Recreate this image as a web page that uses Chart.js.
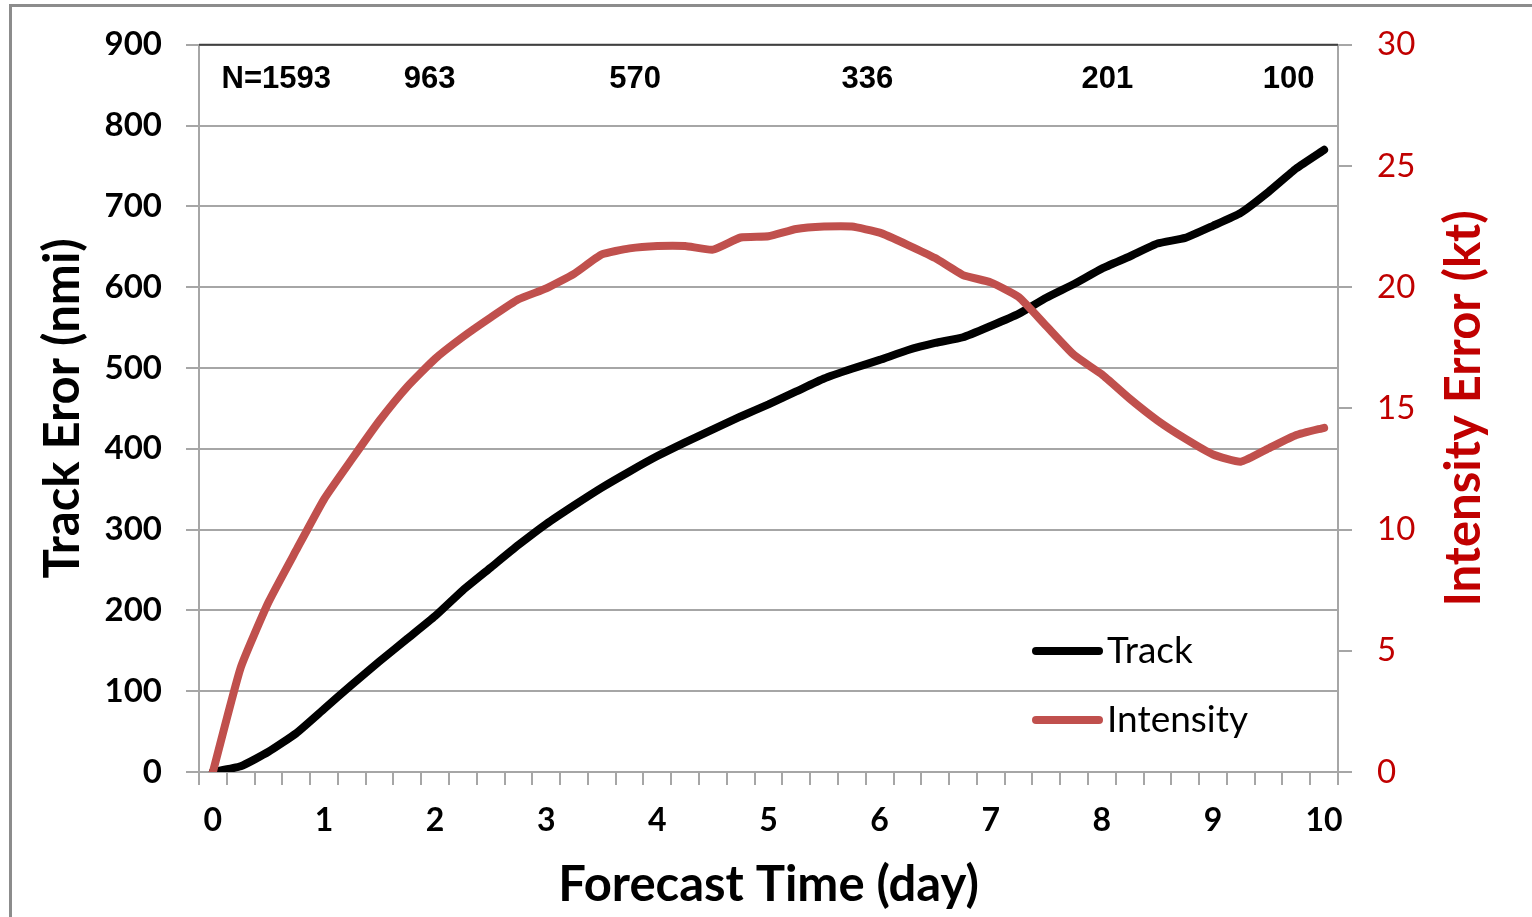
<!DOCTYPE html>
<html lang="en">
<head>
    <meta charset="UTF-8">
    <title>Track and Intensity Error</title>
    <style>
        body {
            margin: 0;
            padding: 0;
            background-color: #fff;
        }

        canvas {
            display: block;
        }
    </style>
</head>
<body>
    <canvas id="errorChart" width="1532" height="917"></canvas>

    <script src="https://cdn.jsdelivr.net/npm/chart.js"></script>
    <script>
        // forecast lead time, every 6 hours (day)
        const days = ['0', '0.25', '0.5', '0.75', '1', '1.25', '1.5', '1.75', '2', '2.25', '2.5', '2.75',
            '3', '3.25', '3.5', '3.75', '4', '4.25', '4.5', '4.75', '5', '5.25', '5.5', '5.75',
            '6', '6.25', '6.5', '6.75', '7', '7.25', '7.5', '7.75', '8', '8.25', '8.5', '8.75',
            '9', '9.25', '9.5', '9.75', '10'];

        // track error (nmi)
        const trackError = [0, 7, 25, 48, 78, 108, 137, 165, 193, 225, 253, 281,
            307, 330, 352, 372, 391, 408, 424, 440, 455, 471, 487, 499,
            510, 522, 531, 538, 552, 567, 587, 604, 623, 638, 654, 661,
            676, 692, 718, 747, 770];

        // intensity error (kt)
        const intensityError = [0, 4.3, 7.0, 9.15, 11.25, 12.9, 14.5, 15.9, 17.05, 17.95, 18.75, 19.5,
            19.95, 20.55, 21.35, 21.6, 21.7, 21.7, 21.55, 22.05, 22.1, 22.4, 22.5, 22.5,
            22.25, 21.75, 21.2, 20.5, 20.2, 19.6, 18.4, 17.2, 16.4, 15.4, 14.5, 13.75,
            13.1, 12.8, 13.35, 13.9, 14.2];

        // number of cases along the top
        const sampleCounts = ['N=1593', '963', '570', '336', '201', '100'];

        const gridGray = '#a6a6a6';
        const darkRed = '#c00000';

        // frame, top border, case counts, legend and right title
        const decorations = {
            id: 'decorations',
            beforeDraw(chart) {
                const ctx = chart.ctx;
                ctx.save();
                ctx.fillStyle = '#fff';
                ctx.fillRect(0, 0, chart.width, chart.height);
                ctx.fillStyle = '#8c8c8c';
                ctx.fillRect(9, 4, 3, chart.height);
                ctx.fillRect(9, 4, chart.width, 3);
                ctx.restore();
            },
            afterDraw(chart) {
                const ctx = chart.ctx;
                const area = chart.chartArea;
                const x = chart.scales.x;
                ctx.save();

                // dark top edge of the plot
                ctx.strokeStyle = '#404040';
                ctx.lineWidth = 2;
                ctx.beginPath();
                ctx.moveTo(area.left, area.top);
                ctx.lineTo(area.right, area.top);
                ctx.stroke();

                // case counts
                const countDays = [0.57, 1.95, 3.8, 5.89, 8.05, 9.68];
                ctx.fillStyle = '#000';
                ctx.font = 'bold 31px "Liberation Sans", Arial, sans-serif';
                ctx.textAlign = 'center';
                ctx.textBaseline = 'middle';
                sampleCounts.forEach((txt, i) => {
                    ctx.fillText(txt, x.getPixelForValue(countDays[i] * 4), area.top + 35);
                });

                // legend inside the plot
                ctx.textAlign = 'left';
                ctx.font = '37px Lato, sans-serif';
                ctx.lineCap = 'round';
                ctx.lineWidth = 8;
                chart.data.datasets.forEach((ds, i) => {
                    const y = area.bottom - 121 + i * 69;
                    ctx.strokeStyle = ds.borderColor;
                    ctx.beginPath();
                    ctx.moveTo(area.right - 302, y);
                    ctx.lineTo(area.right - 239, y);
                    ctx.stroke();
                    ctx.fillStyle = '#000';
                    ctx.fillText(ds.label, area.right - 231, y);
                });

                // right axis title, reading bottom to top
                ctx.translate(1464, (area.top + area.bottom) / 2);
                ctx.rotate(-Math.PI / 2);
                ctx.textAlign = 'center';
                ctx.fillStyle = darkRed;
                ctx.font = 'bold 49px Lato, sans-serif';
                ctx.fillText('Intensity Error (kt)', 0, 0);
                ctx.restore();
            }
        };

        const ctx = document.getElementById('errorChart').getContext('2d');
        const chart = new Chart(ctx, {
            type: 'line',
            data: {
                labels: days,
                datasets: [{
                    label: 'Track',
                    data: trackError,
                    borderColor: '#000000',
                    yAxisID: 'y',
                    order: 1
                }, {
                    label: 'Intensity',
                    data: intensityError,
                    borderColor: '#c0504d',
                    yAxisID: 'y1',
                    order: 0
                }]
            },
            options: {
                responsive: false,
                animation: false,
                layout: { padding: { top: 44, left: 0, right: 0, bottom: 0 } },
                elements: {
                    line: { borderWidth: 8, tension: 0.15, borderCapStyle: 'round', borderJoinStyle: 'round' },
                    point: { radius: 0 }
                },
                plugins: {
                    legend: { display: false },
                    tooltip: { enabled: false }
                },
                scales: {
                    x: {
                        type: 'category',
                        offset: true,
                        grid: { offset: true, drawOnChartArea: false, color: gridGray, lineWidth: 2, tickLength: 13 },
                        border: { color: gridGray, width: 2 },
                        ticks: {
                            autoSkip: false,
                            maxRotation: 0,
                            padding: 16,
                            color: '#000',
                            font: { family: 'Lato', weight: 'bold', size: 32 },
                            callback: function (val, index) {
                                return index % 4 === 0 ? this.getLabelForValue(val) : '';
                            }
                        },
                        title: {
                            display: true,
                            text: 'Forecast Time (day)',
                            color: '#000',
                            font: { family: 'Lato', weight: 'bold', size: 49 },
                            padding: { top: 0, bottom: 2 }
                        },
                        afterFit(scale) { scale.height = 145; }
                    },
                    y: {
                        position: 'left',
                        min: 0,
                        max: 900,
                        grid: { color: gridGray, lineWidth: 2, tickLength: 13 },
                        border: { color: gridGray, width: 2 },
                        ticks: {
                            stepSize: 100,
                            padding: 24,
                            color: '#000',
                            font: { family: 'Lato', weight: 'bold', size: 33 }
                        },
                        title: {
                            display: true,
                            text: 'Track Eror (nmi)',
                            color: '#000',
                            font: { family: 'Lato', weight: 'bold', size: 49 },
                            padding: { top: 34, bottom: 0 }
                        },
                        afterFit(scale) { scale.width = 199; }
                    },
                    y1: {
                        position: 'right',
                        min: 0,
                        max: 30,
                        grid: { drawOnChartArea: false, color: gridGray, lineWidth: 2, tickLength: 14 },
                        border: { color: gridGray, width: 2 },
                        ticks: {
                            stepSize: 5,
                            padding: 25,
                            color: darkRed,
                            font: { family: 'Lato', size: 33 }
                        },
                        afterFit(scale) { scale.width = 194; }
                    }
                }
            },
            plugins: [decorations]
        });
    </script>
</body>
</html>
